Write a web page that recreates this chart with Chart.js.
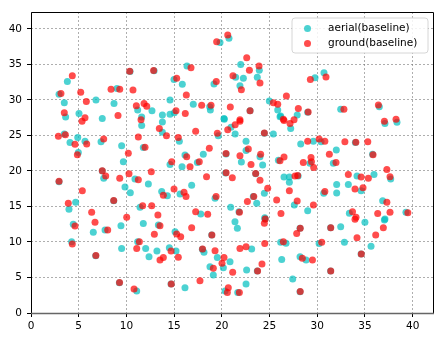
<!DOCTYPE html>
<html>
<head>
<meta charset="utf-8">
<script src="https://cdn.jsdelivr.net/npm/chart.js@4.4.0/dist/chart.umd.min.js"></script>
<style>
  html, body { margin: 0; padding: 0; background: #fff; }
  #wrap { width: 447px; height: 341px; }
</style>
</head>
<body>
<div id="wrap"><canvas id="scatter"></canvas></div>
<script>
// points, [x, y]
var aerialPts = [
  [3.81,32.6],[2.94,30.8],[3.49,29.6],[3.63,27.6],[5.03,28.1],[6.81,30.0],[7.47,27.4],[9.01,31.6],
  [8.7,29.5],[10.38,34.0],[12.9,34.1],[11.18,28.6],[11.6,27.6],[12.68,28.5],[13.77,27.9],
  [19.81,38.1],[20.75,38.7],[16.35,34.8],[14.99,32.9],[15.86,32.2],[14.57,30.0],[17.01,29.4],
  [18.73,29.05],[18.8,28.6],[19.18,32.25],[22.96,28.5],[20.23,27.4],[15.02,28.2],[14.57,28.0],
  [21.98,35.0],[22.26,33.05],[21.45,33.2],[21.9,32.0],[23.93,34.2],[23.72,33.2],[24.98,29.85],
  [25.86,28.6],[26.17,27.75],[27.9,27.9],
  [30.71,33.85],[29.77,33.14],[29.0,28.27],[32.46,28.7],[36.51,29.06],
  [11.6,26.4],[13.77,26.9],[13.77,25.45],[3.49,25.2],[4.09,24.0],[4.9,24.7],[5.66,24.2],[4.96,22.6],
  [7.34,24.1],[9.5,23.55],[11.77,23.3],[9.68,21.3],[7.47,20.0],[7.62,18.97],[10.9,18.87],[12.3,18.17],
  [9.85,17.75],[10.41,16.95],[2.94,18.5],[13.7,17.1],[4.68,15.6],[3.98,14.6],[8.67,15.8],[11.43,14.9],
  [15.55,24.2],[19.63,24.97],[20.26,27.3],[20.96,26.15],[21.4,25.2],[22.54,24.2],[22.54,22.9],
  [20.44,22.4],[22.05,21.27],[24.0,22.0],[24.28,20.85],[24.46,25.3],[25.4,25.2],[26.1,27.65],
  [27.22,26.0],[25.93,21.5],[18.06,22.35],[16.14,22.25],[17.44,21.2],[15.83,20.6],[14.57,20.9],
  [20.4,19.7],[23.55,19.6],[26.52,19.15],[27.08,19.15],[27.08,18.4],[16.84,18.0],[14.29,16.5],
  [15.62,16.76],[19.29,16.15],[24.46,16.86],[23.3,16.4],[23.66,15.45],[27.6,15.2],[17.79,13.94],
  [20.93,14.9],[21.8,14.27],[24.5,13.4],
  [37.1,26.7],[38.36,26.85],[28.27,23.8],[29.6,24.2],[30.4,24.1],[34.0,24.0],[32.0,22.96],[31.69,21.1],
  [29.24,21.1],[35.8,22.35],[37.7,18.87],[28.0,19.3],[34.17,19.3],[35.95,19.5],[32.04,18.1],[33.26,18.1],
  [34.6,17.2],[32.04,16.9],[30.68,16.86],[36.86,15.8],[29.0,14.4],[33.37,14.04],[37.1,13.24],[39.3,14.2],
  [4.43,12.5],[6.53,11.36],[7.76,11.7],[9.43,12.3],[11.77,12.6],[13.35,12.4],[4.26,10.05],[9.5,9.1],
  [11.18,10.05],[12.02,9.1],[12.37,7.93],[13.2,8.73],[6.78,8.07],[9.26,4.27],[11.08,3.1],
  [15.1,11.45],[18.94,10.99],[21.38,12.86],[21.63,11.93],[24.53,13.24],[14.5,9.2],[15.2,8.73],
  [17.96,8.97],[18.13,8.55],[19.53,7.8],[20.86,7.23],[18.76,6.52],[20.16,6.38],[19.11,5.35],
  [23.13,9.0],[22.6,6.06],[23.72,5.9],[22.54,4.08],[16.14,3.56],[14.68,4.08],[20.34,3.1],[21.67,2.9],
  [26.28,7.55],[26.17,9.96],[26.73,9.82],[27.43,4.79],
  [35.0,12.77],[37.04,13.1],[28.2,11.93],[31.4,12.0],[32.46,12.16],[32.85,9.96],[30.2,9.8],
  [35.64,9.4],[34.6,8.3],[28.2,7.93],[28.83,7.46],[31.4,5.9],[28.2,3.0]
];

var groundPts = [
  [4.33,33.4],[3.14,30.9],[3.49,28.2],[5.66,27.5],[5.21,31.1],[5.8,29.8],[8.39,31.5],[9.3,31.5],
  [9.12,27.8],[10.35,34.05],[12.85,34.15],[10.69,31.4],[11.04,29.2],[11.85,29.5],[12.13,29.1],
  [19.46,38.2],[20.62,39.15],[16.77,34.55],[15.27,33.05],[16.28,30.7],[17.89,29.25],[18.87,29.25],
  [19.42,32.6],[20.89,29.0],[22.96,28.5],[21.9,27.2],[15.2,28.5],[16.17,28.1],[22.61,35.96],
  [22.89,34.2],[21.17,33.4],[22.05,31.45],[23.9,34.8],[24.0,32.4],[25.4,29.6],[25.86,29.4],
  [26.77,30.55],[28.02,28.8],[26.45,27.3],
  [30.92,33.24],[29.28,32.9],[29.05,28.3],[32.8,28.7],[36.41,29.3],
  [5.35,27.0],[11.53,27.2],[13.45,26.0],[2.87,24.9],[3.6,25.1],[4.61,23.75],[5.84,23.8],[4.86,22.3],
  [7.62,24.5],[11.25,24.8],[11.95,23.35],[10.2,22.5],[7.47,20.05],[7.83,19.3],[9.3,18.97],[10.27,19.6],
  [11.25,18.77],[12.61,19.9],[2.94,18.55],[5.38,17.2],[13.87,16.6],[3.91,15.45],[8.67,15.85],[6.36,14.2],
  [10.03,13.5],[11.7,15.1],[12.65,15.1],[13.3,13.8],
  [14.2,24.97],[17.26,25.6],[19.53,25.3],[15.44,24.7],[21.9,27.0],[21.4,26.5],[20.62,25.8],[22.78,23.1],
  [20.44,22.45],[21.9,22.15],[23.06,20.9],[24.07,22.35],[24.46,25.35],[26.52,27.1],[27.15,26.7],
  [27.57,27.2],[26.1,21.45],[26.52,21.97],[18.69,23.2],[16.32,22.0],[17.64,21.3],[16.67,20.6],
  [14.75,21.3],[20.45,19.75],[21.1,19.06],[18.4,19.2],[23.55,19.65],[24.0,18.7],[27.67,19.3],
  [14.99,17.46],[16.04,17.0],[16.25,16.4],[19.4,16.4],[24.81,17.56],[23.35,16.4],[22.68,15.7],
  [25.75,15.9],[27.08,17.2],[27.9,15.77],[17.26,14.27],[18.52,13.9],[21.85,14.2],[26.2,14.0],
  [37.04,27.0],[38.26,27.3],[29.0,24.2],[30.2,24.5],[30.8,24.2],[32.9,24.1],[34.05,24.05],[35.3,24.1],
  [31.27,22.35],[31.97,21.2],[28.54,21.2],[29.35,21.9],[29.4,21.3],[29.63,20.5],[35.85,22.3],[37.3,20.2],
  [37.63,19.2],[27.95,19.35],[33.26,19.5],[34.6,19.15],[35.36,18.97],[33.96,17.46],[34.8,17.65],
  [30.8,17.1],[37.3,15.6],[29.6,15.2],[33.7,14.27],[34.07,13.5],[36.34,14.0],[37.63,14.2],[39.5,14.13],
  [4.61,12.25],[6.71,12.77],[8.04,11.7],[13.52,12.3],[12.93,11.08],[4.33,9.7],[11.36,10.05],[11.08,9.1],
  [13.52,7.46],[13.87,7.8],[6.8,8.1],[9.28,4.3],[10.8,3.38],
  [15.27,11.13],[15.69,10.75],[16.84,12.0],[18.96,11.0],[24.55,13.25],[24.46,12.63],[14.68,8.73],
  [15.44,7.84],[17.98,9.0],[19.29,8.77],[20.23,7.8],[20.02,7.0],[19.11,6.3],[21.9,9.1],[22.54,9.34],
  [21.14,5.73],[24.21,6.9],[23.75,5.9],[24.5,9.8],[17.71,4.55],[14.7,4.1],[20.68,3.56],[20.58,2.9],
  [21.84,2.9],[26.45,10.05],
  [33.96,13.2],[36.93,12.0],[36.13,11.0],[28.22,11.95],[27.85,11.2],[31.42,12.0],[34.17,10.6],
  [30.47,9.96],[34.62,8.32],[28.44,7.7],[29.5,7.46],[31.42,5.92],[28.22,3.02]
];

var seriesNames = ['aerial(baseline)', 'ground(baseline)'];
var xTickStep = 5, yTickStep = 5;
var xMax = 42.24, yMax = 42.39;

function toXY(list) {
  return list.map(function(p) { return { x: p[0], y: p[1] }; });
}

var fontFam = '"DejaVu Sans", sans-serif';

// legend box in the upper right corner plus the black frame
var frameAndLegend = {
  id: 'frameAndLegend',
  afterDraw: function(chart) {
    var ctx = chart.ctx;
    var a = chart.chartArea;
    ctx.save();
    ctx.setLineDash([]);
    ctx.strokeStyle = '#000';
    ctx.lineWidth = 1;
    ctx.beginPath();
    ctx.moveTo(a.left + 0.5, a.bottom);
    ctx.lineTo(a.left + 0.5, a.top + 0.5);
    ctx.lineTo(a.right - 0.5, a.top + 0.5);
    ctx.lineTo(a.right - 0.5, a.bottom);
    ctx.stroke();
    ctx.strokeStyle = '#666';
    ctx.lineWidth = 1.5;
    ctx.beginPath();
    ctx.moveTo(a.left, a.bottom + 0.5);
    ctx.lineTo(a.right, a.bottom + 0.5);
    ctx.stroke();

    // legend
    var bx = 292, by = 18, bw = 136, bh = 35, r = 3;
    ctx.beginPath();
    ctx.moveTo(bx + r, by);
    ctx.arcTo(bx + bw, by, bx + bw, by + bh, r);
    ctx.arcTo(bx + bw, by + bh, bx, by + bh, r);
    ctx.arcTo(bx, by + bh, bx, by, r);
    ctx.arcTo(bx, by, bx + bw, by, r);
    ctx.closePath();
    ctx.fillStyle = 'rgba(255,255,255,0.85)';
    ctx.fill();
    ctx.strokeStyle = '#d6d6d6';
    ctx.lineWidth = 1;
    ctx.stroke();

    ctx.font = '10.5px ' + fontFam;
    ctx.textBaseline = 'middle';
    ctx.textAlign = 'left';
    chart.data.datasets.forEach(function(ds, i) {
      var yy = 28.5 + i * 15;
      ctx.beginPath();
      ctx.arc(307.5, yy, 3.5, 0, Math.PI * 2);
      ctx.fillStyle = ds.backgroundColor;
      ctx.fill();
      ctx.fillStyle = '#000';
      ctx.fillText(ds.label, 328, yy);
    });
    ctx.restore();
  }
};

var gridOpts = {
  color: 'rgba(110,110,110,0.7)',
  lineWidth: 0.8,
  tickLength: 4,
  tickColor: '#000',
  tickWidth: 1,
  tickBorderDash: []
};

new Chart(document.getElementById('scatter'), {
  type: 'scatter',
  data: {
    datasets: [{
      label: seriesNames[0],
      data: toXY(aerialPts),
      backgroundColor: 'rgba(0,191,191,0.7)',
      pointRadius: 3.5,
      pointBorderWidth: 0,
      order: 2
    }, {
      label: seriesNames[1],
      data: toXY(groundPts),
      backgroundColor: 'rgba(255,0,0,0.7)',
      pointRadius: 3.5,
      pointBorderWidth: 0,
      order: 1
    }]
  },
  options: {
    responsive: true,
    maintainAspectRatio: false,
    animation: false,
    layout: { padding: { left: 0, top: 12, right: 13, bottom: 0 } },
    plugins: {
      legend: { display: false },
      tooltip: { enabled: false }
    },
    scales: {
      x: {
        type: 'linear',
        min: 0,
        max: xMax,
        afterFit: function(s) { s.height = 28; },
        ticks: {
          stepSize: xTickStep,
          includeBounds: false,
          padding: 3,
          color: '#000',
          maxRotation: 0,
          font: { family: fontFam, size: 10.5 }
        },
        grid: gridOpts,
        border: { display: false, dash: [2, 2] }
      },
      y: {
        type: 'linear',
        min: 0,
        max: yMax,
        afterFit: function(s) { s.width = 31; },
        ticks: {
          stepSize: yTickStep,
          includeBounds: false,
          padding: 5,
          color: '#000',
          font: { family: fontFam, size: 10.5 }
        },
        grid: gridOpts,
        border: { display: false, dash: [2, 2] }
      }
    }
  },
  plugins: [frameAndLegend]
});
</script>
</body>
</html>
